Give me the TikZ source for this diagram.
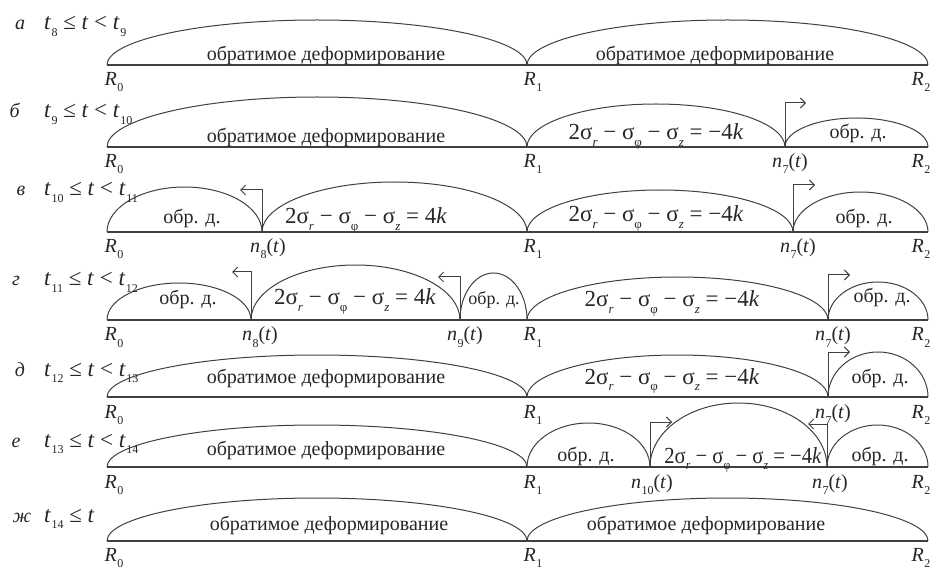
\documentclass[tikz,border=0pt]{standalone}
\usepackage{fontspec}
\setmainfont{Liberation Serif}
\usetikzlibrary{arrows.meta,calc}
\newcommand\sbs[2]{\textit{#1}\kern0.02em\raisebox{-0.3em}{\fontsize{12}{12}\selectfont #2}}
\newcommand\sgm[1]{σ\raisebox{-0.3em}{\fontsize{13}{13}\selectfont #1}}
\newcommand\eqm[1]{2\sgm{\textit{r}} − \sgm{φ} − \sgm{\textit{z}} = #1\textit{k}}
\newcommand\nn[1]{\sbs{n}{#1}(\textit{t})}
\tikzset{
  baseln/.style={line width=1.4pt, draw=black!75},
  humpln/.style={line width=1pt, draw=black!75},
  mv/.style={line width=1pt, draw=black!75, -{Straight Barb[length=5pt,width=10pt]}},
  lbl/.style={font=\fontsize{20}{24}\selectfont, inner sep=0pt, text=black!85},
  txt/.style={lbl, anchor=base},
  eqt/.style={lbl, anchor=base, font=\fontsize{23}{26}\selectfont},
  rl/.style={lbl, anchor=base},
  rowl/.style={lbl, anchor=base},
  expr/.style={lbl, anchor=base west, font=\fontsize{23}{26}\selectfont}
}
\newcommand\hump[3]{\draw[humpln] let \p1=(#1), \p2=(#2) in (#1) arc[start angle=180, end angle=0, x radius={(\x2-\x1)/2}, y radius=#3pt];}
\begin{document}
\begin{tikzpicture}[x=1pt,y=-1pt]
\useasboundingbox (0,0) rectangle (937,569);
% ---------- row a
\coordinate (a0) at (107,65); \coordinate (a1) at (527,65); \coordinate (a2) at (928,65);
\draw[baseln] (a0) -- (a2);
\hump{a0}{a1}{45} \hump{a1}{a2}{45}
\node[rowl] (la) at (20,30) {\textit{а}};
\node[expr] (ea) at (44,30) {\sbs{t}{8} ≤ \textit{t} < \sbs{t}{9}};
\node[txt] (ta1) at (326,61) {обратимое деформирование};
\node[txt] (ta2) at (715,61) {обратимое деформирование};
\node[rl] (ra0) at (114,86) {\sbs{R}{0}};
\node[rl] (ra1) at (533,86) {\sbs{R}{1}};
\node[rl] (ra2) at (921,86) {\sbs{R}{2}};
% ---------- row b
\coordinate (b0) at (107,147); \coordinate (b1) at (527,147); \coordinate (bn7) at (785,147); \coordinate (b2) at (928,147);
\coordinate (bm7) at (806,103);
\draw[baseln] (b0) -- (b2);
\hump{b0}{b1}{50} \hump{b1}{bn7}{43} \hump{bn7}{b2}{29}
\draw[mv] (bn7) |- (bm7);
\node[rowl] (lb) at (15,118) {\textit{б}};
\node[expr] (eb) at (44,118) {\sbs{t}{9} ≤ \textit{t} < \sbs{t}{10}};
\node[txt] (tb1) at (326,143) {обратимое деформирование};
\node[eqt] (tb2) at (656,140) {\eqm{−4}};
\node[txt] (tb3) at (858,139) {обр. д.};
\node[rl] (rb0) at (114,168) {\sbs{R}{0}};
\node[rl] (rb1) at (533,168) {\sbs{R}{1}};
\node[rl] (rbn) at (790,168) {\nn{7}};
\node[rl] (rb2) at (921,168) {\sbs{R}{2}};
% ---------- row c
\coordinate (c0) at (107,232); \coordinate (cn8) at (262,232); \coordinate (c1) at (527,232); \coordinate (cn7) at (793,232); \coordinate (c2) at (928,232);
\coordinate (cm8) at (240,190); \coordinate (cm7) at (815,185);
\draw[baseln] (c0) -- (c2);
\hump{c0}{cn8}{45} \hump{cn8}{c1}{50} \hump{c1}{cn7}{42} \hump{cn7}{c2}{40}
\draw[mv] (cn8) |- (cm8);
\draw[mv] (cn7) |- (cm7);
\node[rowl] (lc) at (21,196) {\textit{в}};
\node[expr] (ec) at (44,196) {\sbs{t}{10} ≤ \textit{t} < \sbs{t}{11}};
\node[txt] (tc1) at (192,224) {обр. д.};
\node[eqt] (tc2) at (366,224) {\eqm{4}};
\node[eqt] (tc3) at (656,222) {\eqm{−4}};
\node[txt] (tc4) at (864,224) {обр. д.};
\node[rl] (rc0) at (114,253) {\sbs{R}{0}};
\node[rl] (rcn8) at (268,253) {\nn{8}};
\node[rl] (rc1) at (533,253) {\sbs{R}{1}};
\node[rl] (rcn7) at (798,253) {\nn{7}};
\node[rl] (rc2) at (921,253) {\sbs{R}{2}};
% ---------- row d
\coordinate (d0) at (107,320); \coordinate (dn8) at (251,320); \coordinate (dn9) at (460,320); \coordinate (d1) at (527,320); \coordinate (dn7) at (828,320); \coordinate (d2) at (928,320);
\coordinate (dm8) at (232,272); \coordinate (dm9) at (438,277); \coordinate (dm7) at (850,275);
\draw[baseln] (d0) -- (d2);
\hump{d0}{dn8}{37} \hump{dn8}{dn9}{55} \hump{dn9}{d1}{47} \hump{d1}{dn7}{43} \hump{dn7}{d2}{38}
\draw[mv] (dn8) |- (dm8);
\draw[mv] (dn9) |- (dm9);
\draw[mv] (dn7) |- (dm7);
\node[rowl] (ld) at (16,286) {\textit{г}};
\node[expr] (ed) at (44,286) {\sbs{t}{11} ≤ \textit{t} < \sbs{t}{12}};
\node[txt] (td1) at (188,305) {обр. д.};
\node[eqt] (td2) at (355,305) {\eqm{4}};
\node[txt, font=\fontsize{18}{20}\selectfont] (td3) at (494,305) {обр. д.};
\node[eqt] (td4) at (672,307) {\eqm{−4}};
\node[txt] (td5) at (882,302) {обр. д.};
\node[rl] (rd0) at (114,341) {\sbs{R}{0}};
\node[rl] (rdn8) at (260,341) {\nn{8}};
\node[rl] (rdn9) at (465,341) {\nn{9}};
\node[rl] (rd1) at (533,341) {\sbs{R}{1}};
\node[rl] (rdn7) at (833,341) {\nn{7}};
\node[rl] (rd2) at (921,341) {\sbs{R}{2}};
% ---------- row e
\coordinate (e0) at (107,397); \coordinate (e1) at (527,397); \coordinate (en7) at (828,397); \coordinate (e2) at (928,397);
\coordinate (em7) at (850,352);
\draw[baseln] (e0) -- (e2);
\hump{e0}{e1}{42} \hump{e1}{en7}{42} \hump{en7}{e2}{45}
\draw[mv] (en7) |- (em7);
\node[rowl] (le) at (20,376) {\textit{д}};
\node[expr] (ee) at (44,376) {\sbs{t}{12} ≤ \textit{t} < \sbs{t}{13}};
\node[txt] (te1) at (326,383) {обратимое деформирование};
\node[eqt] (te2) at (672,384) {\eqm{−4}};
\node[txt] (te3) at (880,383) {обр. д.};
\node[rl] (re0) at (114,418) {\sbs{R}{0}};
\node[rl] (re1) at (533,418) {\sbs{R}{1}};
\node[rl] (ren7) at (833,418) {\nn{7}};
\node[rl] (re2) at (921,418) {\sbs{R}{2}};
% ---------- row f
\coordinate (f0) at (107,467); \coordinate (f1) at (527,467); \coordinate (fn10) at (650,467); \coordinate (fn7) at (827,467); \coordinate (f2) at (928,467);
\coordinate (fm10) at (672,422); \coordinate (fm7) at (808,424);
\draw[baseln] (f0) -- (f2);
\hump{f0}{f1}{42} \hump{f1}{fn10}{44} \hump{fn10}{fn7}{64} \hump{fn7}{f2}{42}
\draw[mv] (fn10) |- (fm10);
\draw[mv] (fn7) |- (fm7);
\node[rowl] (lf) at (16,447) {\textit{е}};
\node[expr] (ef) at (44,447) {\sbs{t}{13} ≤ \textit{t} < \sbs{t}{14}};
\node[txt] (tf1) at (326,455) {обратимое деформирование};
\node[txt] (tf2) at (586,461) {обр. д.};
\node[eqt, xscale=0.9] (tf3) at (743,463) {\eqm{−4}};
\node[txt] (tf4) at (880,461) {обр. д.};
\node[rl] (rf0) at (114,488) {\sbs{R}{0}};
\node[rl] (rf1) at (533,488) {\sbs{R}{1}};
\node[rl] (rfn10) at (652,488) {\nn{10}};
\node[rl] (rfn7) at (830,488) {\nn{7}};
\node[rl] (rf2) at (921,488) {\sbs{R}{2}};
% ---------- row g
\coordinate (g0) at (107,541); \coordinate (g1) at (527,541); \coordinate (g2) at (928,541);
\draw[baseln] (g0) -- (g2);
\hump{g0}{g1}{43} \hump{g1}{g2}{43}
\node[rowl] (lg) at (22,522) {\textit{ж}};
\node[expr] (eg) at (44,522) {\sbs{t}{14} ≤ \textit{t}};
\node[txt] (tg1) at (329,530) {обратимое деформирование};
\node[txt] (tg2) at (706,530) {обратимое деформирование};
\node[rl] (rg0) at (114,561) {\sbs{R}{0}};
\node[rl] (rg1) at (533,561) {\sbs{R}{1}};
\node[rl] (rg2) at (921,561) {\sbs{R}{2}};
\end{tikzpicture}
\end{document}
